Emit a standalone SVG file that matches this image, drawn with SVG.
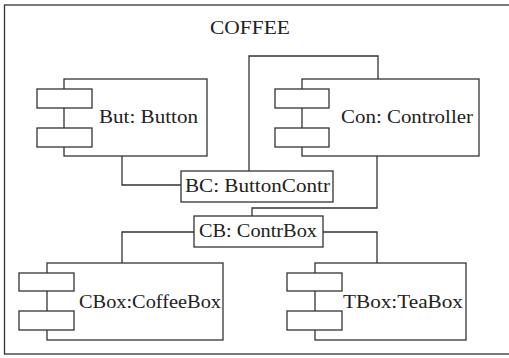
<svg xmlns="http://www.w3.org/2000/svg" width="509" height="358" viewBox="0 0 509 358" font-family="'Liberation Serif', 'DejaVu Serif', serif">
<style>
.s{fill:#fff;stroke:#333;stroke-width:1.3}
.c{fill:none;stroke:#333;stroke-width:1.3}
text{font-family:"Liberation Serif","DejaVu Serif",serif;font-size:19px;fill:#222}
</style>
<rect x="0" y="0" width="509" height="358" fill="#fff"/>
<g id="frame">
<rect class="c" x="4.5" y="5" width="520" height="349"/>
<text x="210" y="34" textLength="80" lengthAdjust="spacingAndGlyphs">COFFEE</text>
</g>
<g id="connectors">
<polyline class="c" points="122,156 122,185 181,185"/>
<polyline class="c" points="378,79 378,56 249,56 249,171"/>
<polyline class="c" points="377,156 377,208 252,208 252,216"/>
<polyline class="c" points="194,232 122,232 122,263"/>
<polyline class="c" points="323,232 377,232 377,263"/>
</g>
<g id="but">
<rect class="s" x="64" y="79" width="143" height="77"/>
<rect class="s" x="37" y="89" width="55" height="19"/>
<rect class="s" x="37" y="128" width="55" height="19"/>
<text x="99" y="123" textLength="99" lengthAdjust="spacingAndGlyphs">But: Button</text>
</g>
<g id="con">
<rect class="s" x="302" y="79" width="177" height="77"/>
<rect class="s" x="275" y="89" width="54" height="19"/>
<rect class="s" x="275" y="128" width="54" height="19"/>
<text x="341" y="123" textLength="132" lengthAdjust="spacingAndGlyphs">Con: Controller</text>
</g>
<g id="bc">
<rect class="s" x="181" y="171" width="152" height="31"/>
<text x="185" y="192" textLength="145" lengthAdjust="spacingAndGlyphs">BC: ButtonContr</text>
</g>
<g id="cb">
<rect class="s" x="194" y="216" width="129" height="31"/>
<text x="199" y="237" textLength="118" lengthAdjust="spacingAndGlyphs">CB: ContrBox</text>
</g>
<g id="cbox">
<rect class="s" x="47" y="263" width="176" height="77"/>
<rect class="s" x="19" y="273" width="55" height="18"/>
<rect class="s" x="19" y="311" width="55" height="19"/>
<text x="79" y="308" textLength="142" lengthAdjust="spacingAndGlyphs">CBox:CoffeeBox</text>
</g>
<g id="tbox">
<rect class="s" x="315" y="263" width="151" height="77"/>
<rect class="s" x="287" y="273" width="55" height="18"/>
<rect class="s" x="287" y="311" width="55" height="19"/>
<text x="343" y="308" textLength="120" lengthAdjust="spacingAndGlyphs">TBox:TeaBox</text>
</g>
</svg>
